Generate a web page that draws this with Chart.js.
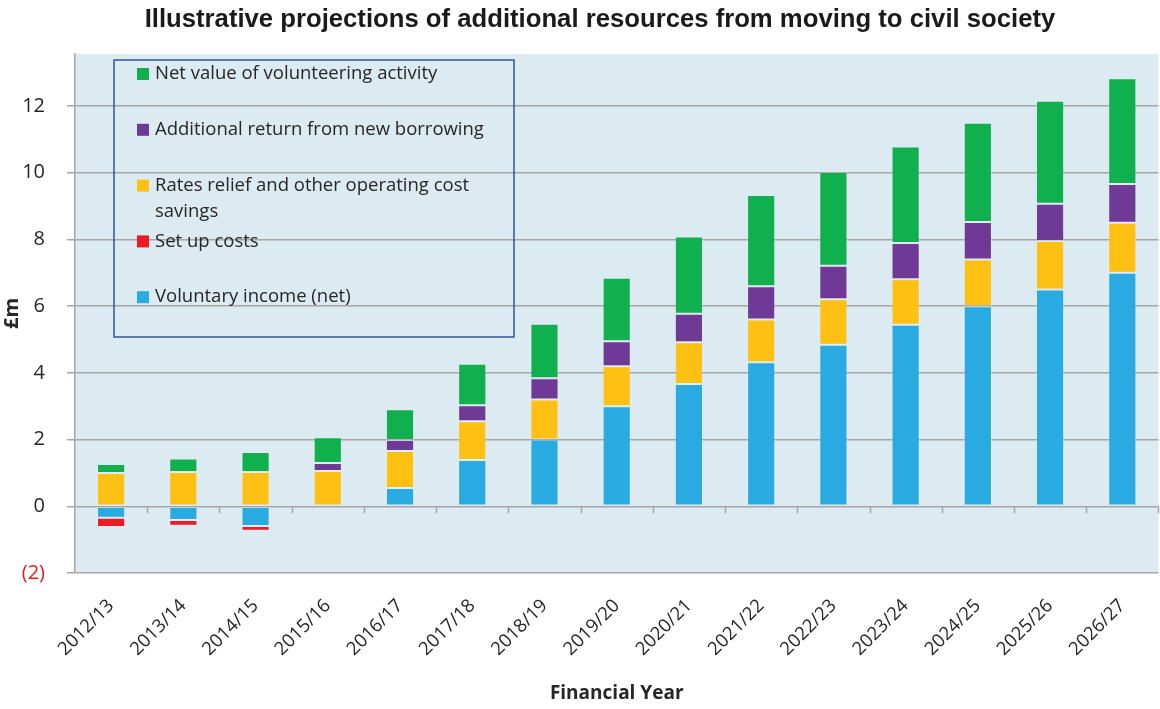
<!DOCTYPE html>
<html>
<head>
<meta charset="utf-8">
<script src="https://cdn.jsdelivr.net/npm/chart.js@4.4.1/dist/chart.umd.min.js"></script>
<style>
  html, body { margin: 0; padding: 0; background: #ffffff; }
  #wrap { width: 1160px; height: 709px; position: relative; }
</style>
</head>
<body>
<div id="wrap"><canvas id="chart"></canvas></div>
<script>
// financial years
const years = ["2012/13","2013/14","2014/15","2015/16","2016/17","2017/18","2018/19","2019/20",
  "2020/21","2021/22","2022/23","2023/24","2024/25","2025/26","2026/27"];
// £m per component
const voluntary_income = [-0.34,-0.41,-0.59,-0.04,0.55,1.39,2.0,3.0,3.67,4.32,4.84,5.44,6.0,6.5,7.0];
const set_up_costs     = [-0.28,-0.17,-0.14,0,0,0,0,0,0,0,0,0,0,0,0];
const rates_relief     = [1.0,1.03,1.03,1.06,1.11,1.16,1.2,1.2,1.25,1.28,1.37,1.37,1.4,1.45,1.5];
const new_borrowing    = [0,0,0,0.24,0.33,0.48,0.64,0.75,0.85,1.0,1.0,1.08,1.12,1.12,1.16];
const volunteering     = [0.27,0.4,0.6,0.77,0.92,1.24,1.63,1.9,2.32,2.73,2.81,2.9,2.98,3.09,3.17];

const title_text = "Illustrative projections of additional resources from moving to civil society";

const font_main = "'Open Sans', 'DejaVu Sans', sans-serif";

// light blue plot background
const plotBg = {
  id: "plotBg",
  beforeDraw(chart) {
    const {ctx, chartArea: a} = chart;
    ctx.save();
    ctx.fillStyle = "#dcebf2";
    ctx.fillRect(a.left, a.top, a.right - a.left, a.bottom - a.top);
    ctx.restore();
  }
};

// title, x tick marks on the zero line, legend box
const extras = {
  id: "extras",
  afterDraw(chart) {
    const {ctx, chartArea: a} = chart;
    const x = chart.scales.x, y = chart.scales.y;
    ctx.save();
    // title
    ctx.fillStyle = "#1a1a1a";
    ctx.font = "bold 25.7px 'Liberation Sans', Arial, sans-serif";
    ctx.textAlign = "center";
    ctx.textBaseline = "alphabetic";
    ctx.fillText(title_text, chart.width / 2 + 20, 27);

    // small tick marks hanging from the zero line at category boundaries
    const y0 = y.getPixelForValue(0);
    const step = (x.right - x.left) / years.length;
    ctx.strokeStyle = "#a6a6a6";
    ctx.lineWidth = 1.5;
    for (let i = 1; i <= years.length; i++) {
      const px = Math.round(x.left + i * step) + 0.5;
      ctx.beginPath();
      ctx.moveTo(px, y0);
      ctx.lineTo(px, y0 + 7);
      ctx.stroke();
    }

    // legend box
    const bx = a.left + 39, by = a.top + 6, bw = 400, bh = 277;
    ctx.strokeStyle = "#2f5597";
    ctx.lineWidth = 1.5;
    ctx.strokeRect(bx, by, bw, bh);
    ctx.font = "18.5px " + font_main;
    ctx.textAlign = "left";
    ctx.textBaseline = "middle";
    const items = chart.data.datasets.slice().reverse();
    items.forEach((ds, i) => {
      const ty = by + 14 + i * 55.8;
      ctx.fillStyle = ds.backgroundColor;
      ctx.fillRect(bx + 23, ty - 6, 12, 12);
      ctx.fillStyle = "#262626";
      // wrap long labels
      const words = ds.label.split(" ");
      let line = "", lines = [];
      words.forEach(w => {
        const t = line ? line + " " + w : w;
        if (ctx.measureText(t).width > 350 && line) { lines.push(line); line = w; }
        else line = t;
      });
      lines.push(line);
      lines.forEach((l, k) => ctx.fillText(l, bx + 41, ty + k * 26));
    });
    ctx.restore();
  }
};

const ctx = document.getElementById("chart").getContext("2d");
const chart = new Chart(ctx, {
  type: "bar",
  data: {
    labels: years,
    datasets: [
      { label: "Voluntary income (net)", data: voluntary_income, backgroundColor: "#29abe2" },
      { label: "Set up costs", data: set_up_costs, backgroundColor: "#ed1c24" },
      { label: "Rates relief and other operating cost savings", data: rates_relief, backgroundColor: "#fdc013" },
      { label: "Additional return from new borrowing", data: new_borrowing, backgroundColor: "#6f3996" },
      { label: "Net value of volunteering activity", data: volunteering, backgroundColor: "#10b04e" }
    ]
  },
  options: {
    responsive: true,
    maintainAspectRatio: false,
    animation: false,
    datasets: {
      bar: {
        barPercentage: 0.39,
        categoryPercentage: 1,
        borderWidth: 1,
        borderColor: "rgba(255,255,255,0.12)",
        borderSkipped: false
      }
    },
    layout: { padding: { top: 54, right: 0, left: 0, bottom: 0 } },
    plugins: {
      legend: { display: false },
      title: { display: false },
      tooltip: { enabled: false }
    },
    scales: {
      x: {
        stacked: true,
        grid: { display: false, drawTicks: false },
        border: { display: false },
        ticks: {
          maxRotation: 45, minRotation: 45,
          padding: 22,
          color: "#262626",
          font: { family: font_main, size: 18.5 }
        },
        title: {
          display: true,
          text: "Financial Year",
          color: "#262626",
          font: { family: font_main, size: 19, weight: "bold" },
          padding: { top: 0, bottom: 4 }
        },
        afterFit(scale) { scale.height = 136; }
      },
      y: {
        stacked: true,
        min: -2,
        max: 13.56,
        afterBuildTicks(scale) {
          const t = [];
          for (let v = -2; v <= 12; v += 2) t.push({ value: v });
          scale.ticks = t;
        },
        grid: {
          color: "#a6a6a6",
          lineWidth: 1.5,
          tickLength: 8,
          tickColor: "#a6a6a6"
        },
        border: { display: true, color: "#a6a6a6", width: 1.5 },
        ticks: {
          padding: 22,
          color: (c) => c.tick && c.tick.value < 0 ? "#e31b23" : "#262626",
          font: { family: font_main, size: 20 },
          callback: (v) => v < 0 ? "(" + (-v) + ")" : String(v)
        },
        title: {
          display: true,
          text: "£m",
          color: "#262626",
          font: { family: font_main, size: 20, weight: "bold" },
          padding: { top: 0, bottom: 0 }
        },
        afterFit(scale) { scale.width = 75; }
      }
    }
  },
  plugins: [plotBg, extras]
});
</script>
</body>
</html>
